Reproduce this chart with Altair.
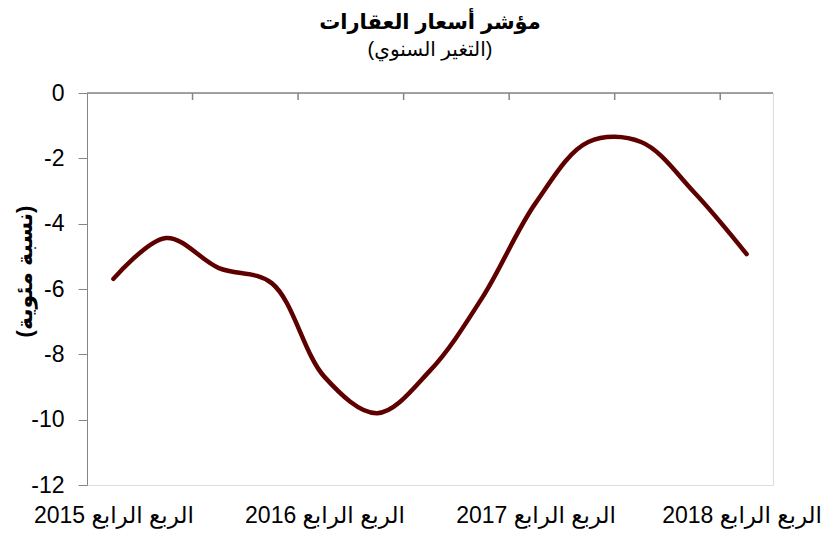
import altair as alt
import pandas as pd

# Quarterly index positions Q4-2015 ... Q4-2018
quarters = list(range(13))
values = [-5.69, -4.44, -5.36, -5.82, -8.69, -9.8, -8.5, -6.24, -3.37, -1.5, -1.5, -3.03, -4.93]
label_positions = [0, 4, 8, 12]
label_texts = ["2015 الربع الرابع", "2016 الربع الرابع", "2017 الربع الرابع", "2018 الربع الرابع"]
tick_positions = [1.5, 3.5, 5.5, 7.5, 9.5, 11.5]
y_ticks = [0, -2, -4, -6, -8, -10, -12]

df = pd.DataFrame({"q": quarters, "v": values})
ticks_df = pd.DataFrame({"t": tick_positions})

label_map = "{" + ",".join(f"'{p}':'{t}'" for p, t in zip(label_positions, label_texts)) + "}"

FONT = "Liberation Sans, Arial, DejaVu Sans"
GREY = "#868686"

xscale = alt.Scale(domain=[-0.5, 12.5], nice=False, zero=False)
yscale = alt.Scale(domain=[-12, 0], nice=False)

line = alt.Chart(df).mark_line(
    color="#5E0000", strokeWidth=4.5, interpolate="catmull-rom", strokeCap="round"
).encode(
    x=alt.X("q:Q", scale=xscale, axis=alt.Axis(
        values=label_positions, labelExpr=f"{label_map}[datum.value]",
        domain=False, ticks=False, tickSize=0, grid=False, title=None,
        labelFontSize=23, labelFont=FONT, labelColor="#000000",
        labelOffset={"condition": {"test": f"datum.value == {label_positions[-1]}", "value": -5}, "value": 0},
        labelPadding=30, labelBaseline="middle", labelFlush=False, labelOverlap=False)),
    y=alt.Y("v:Q", scale=yscale, axis=alt.Axis(
        values=y_ticks, grid=False, domainColor=GREY, tickColor=GREY, tickSize=9,
        labelExpr="'' + datum.value",
        labelFontSize=23, labelFont=FONT, labelColor="#000000", labelPadding=14,
        title="(نسبة مئوية)", titleFont=FONT, titleFontSize=22, titleFontWeight="bold",
        titleColor="#000000", titleAngle=270, titleX=-63, titleY=178,
        titleAlign="center", titleBaseline="middle")),
)

top_line = alt.Chart(pd.DataFrame({"z": [0]})).mark_rule(color=GREY, strokeWidth=1.5).encode(
    y=alt.Y("z:Q", scale=yscale)
)

top_ticks = alt.Chart(ticks_df).mark_rule(color=GREY, strokeWidth=1.5).encode(
    x=alt.X("t:Q", scale=xscale),
    y=alt.value(0),
    y2=alt.value(7),
)

chart = alt.layer(top_line, top_ticks, line).properties(
    width=686,
    height=392,
    padding={"left": 79, "top": 85, "right": 48, "bottom": 46},
    autosize=alt.AutoSizeParams(type="none"),
    title=alt.TitleParams(
        text="مؤشر أسعار العقارات",
        subtitle="(التغير السنوي)",
        font=FONT, fontSize=21, fontWeight="bold", color="#000000",
        subtitleFont=FONT, subtitleFontSize=20, subtitleColor="#000000",
        subtitlePadding=7, anchor="middle", offset=22,
    ),
).configure_view(stroke=None).configure(background="white")

chart.save("out.html", embed_options={"renderer": "svg", "actions": False})
